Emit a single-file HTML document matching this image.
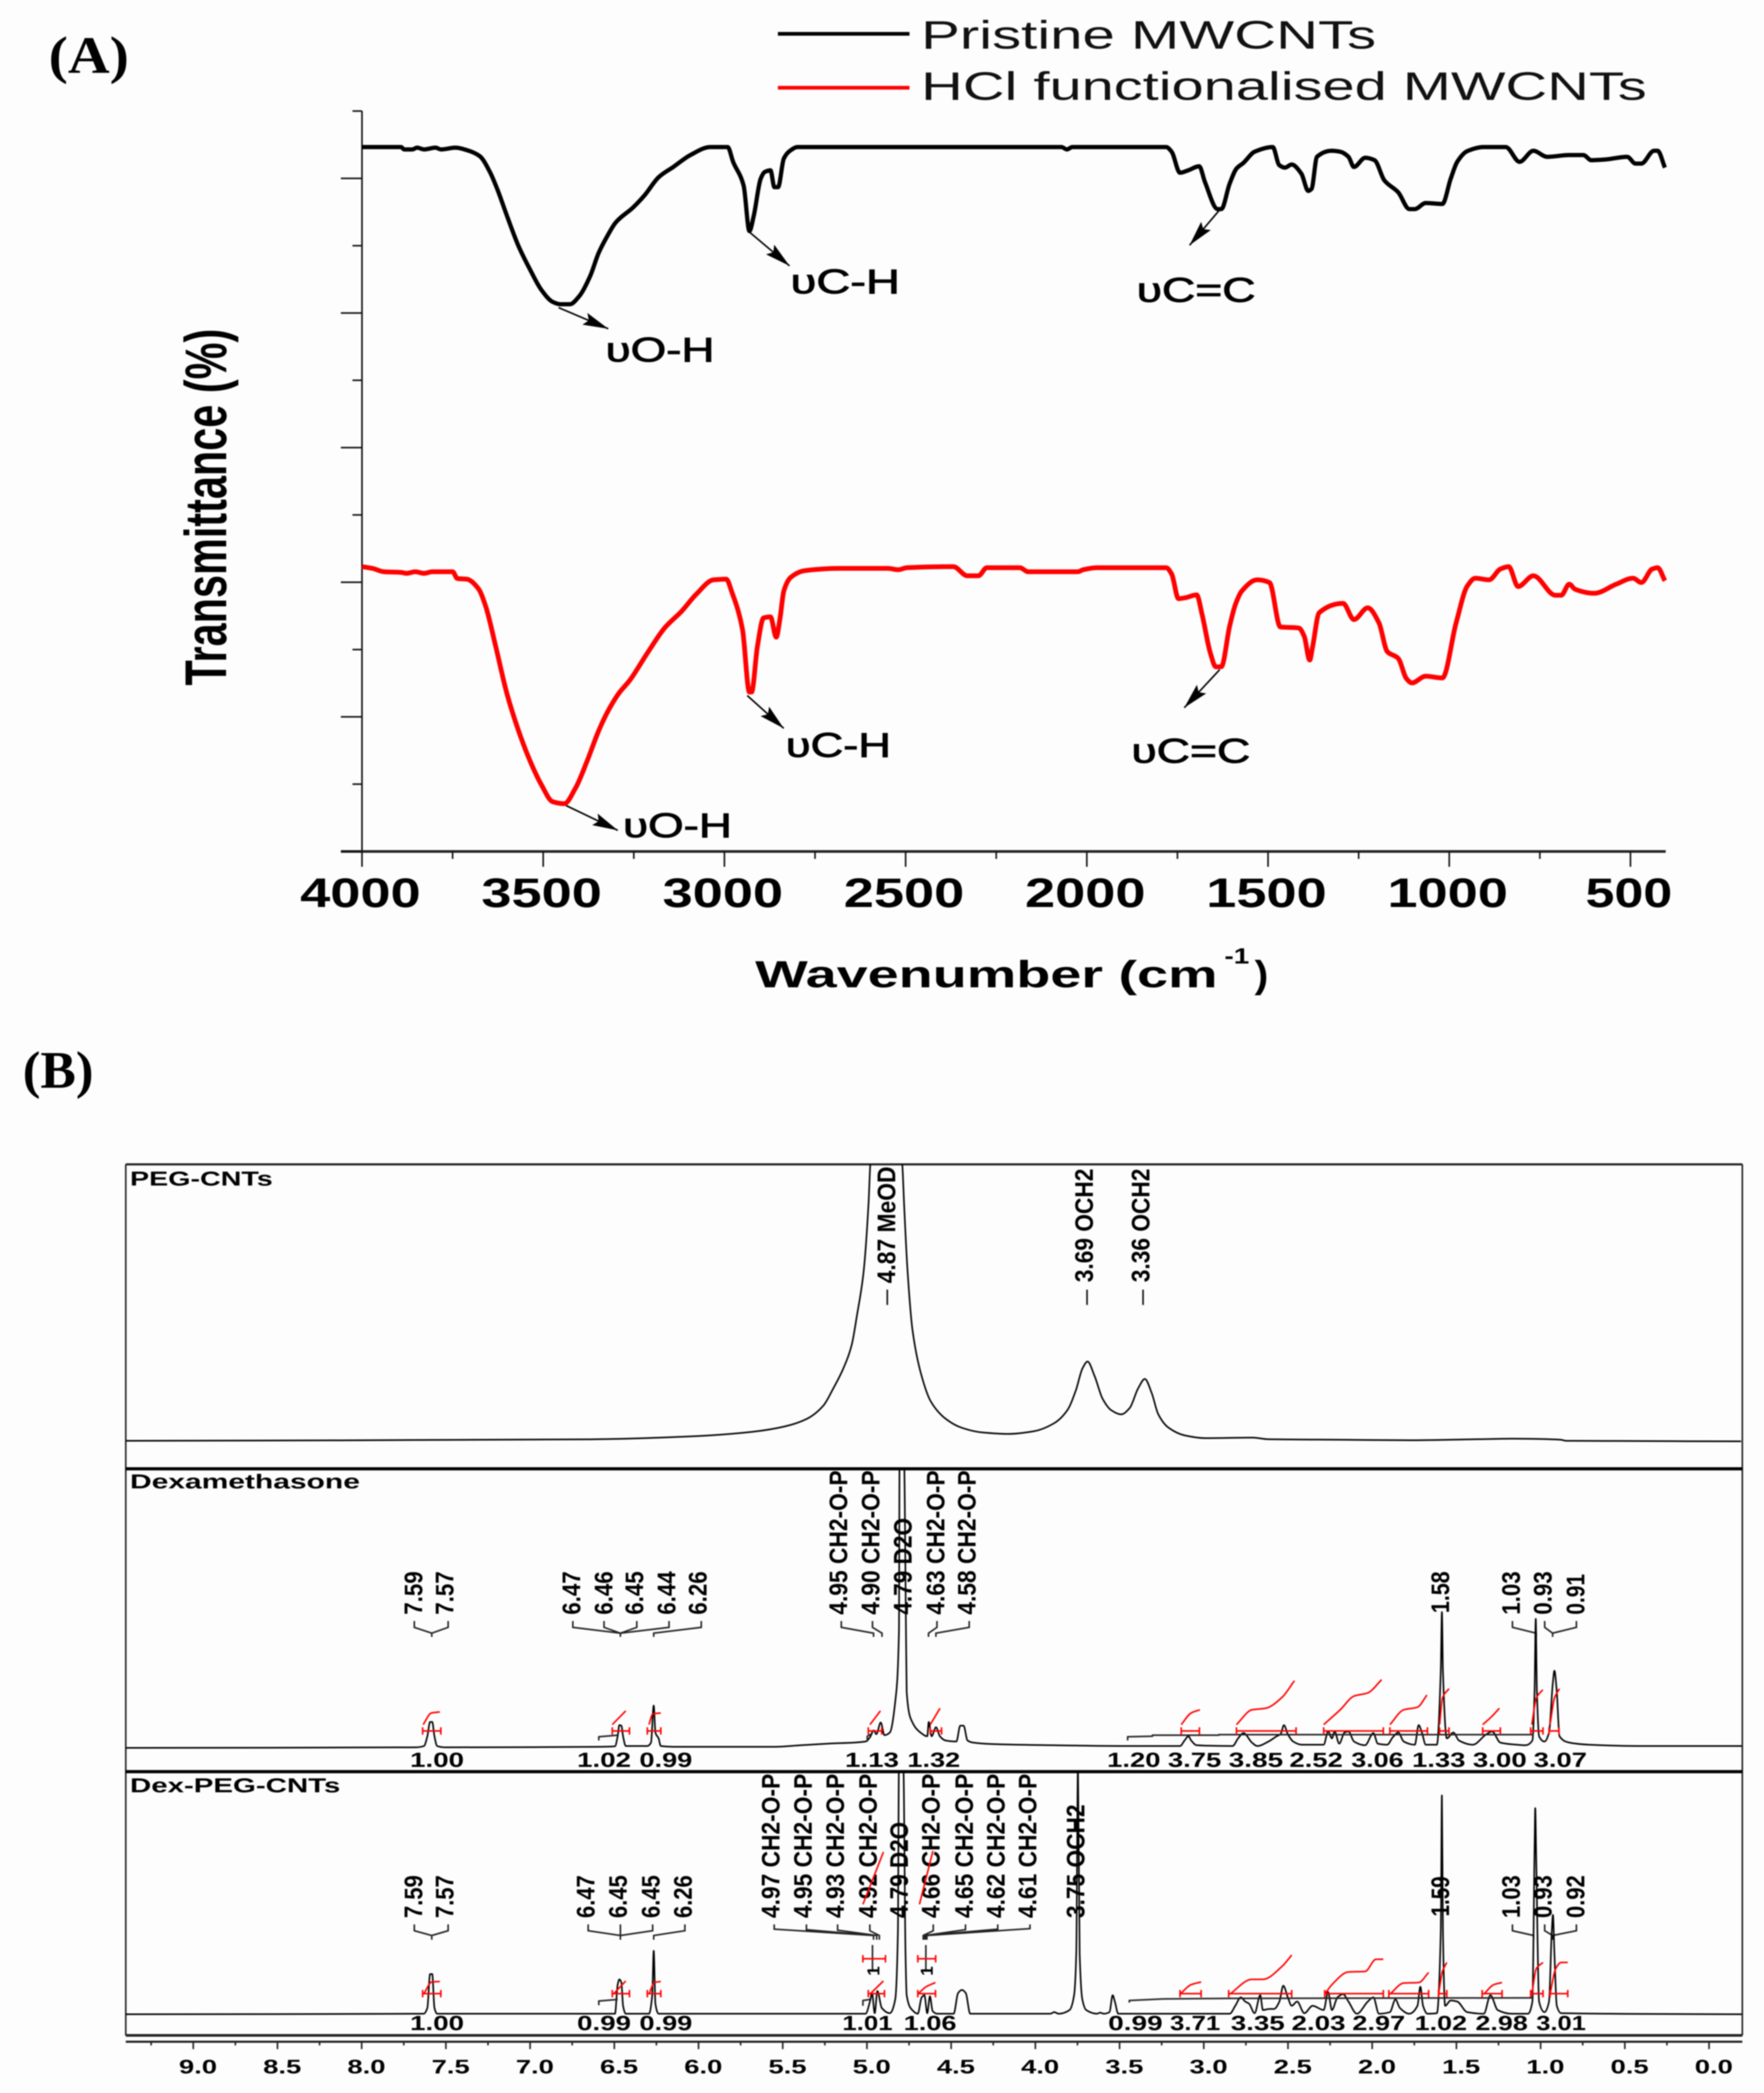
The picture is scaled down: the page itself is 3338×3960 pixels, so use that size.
<!DOCTYPE html>
<html lang="en">
<head>
<meta charset="utf-8">
<title>FTIR and NMR spectra</title>
<style>
html,body{margin:0;padding:0;background:#fdfdfd;}
svg{display:block;filter:blur(1.1px);}
text{font-family:"Liberation Sans",sans-serif;fill:#000;}
.serif{font-family:"Liberation Serif",serif;font-weight:bold;font-size:100px;}
.legend{font-size:75px;fill:#111;}
.tick{font-size:78px;font-weight:bold;text-anchor:middle;}
.title{font-weight:bold;}
.ann{font-size:65px;stroke:#000;stroke-width:1.5px;}
.panel{font-size:38px;font-weight:bold;}
.pk{font-size:48px;font-weight:bold;}
.int{font-size:39px;font-weight:bold;}
.ppm{font-size:37px;font-weight:bold;text-anchor:middle;}
</style>
</head>
<body>
<svg id="fig" xmlns="http://www.w3.org/2000/svg" width="3338" height="3960" viewBox="0 0 3338 3960">
<defs>
<marker id="ah" markerUnits="userSpaceOnUse" markerWidth="52" markerHeight="28" refX="48" refY="14" orient="auto">
<path d="M8 14L0 2L48 14L0 26Z" fill="#000"/>
</marker>
<clipPath id="clipPeg"><rect x="238" y="2203" width="3059" height="576"/></clipPath>
<clipPath id="clipDex"><rect x="238" y="2779" width="3059" height="573"/></clipPath>
<clipPath id="clipDexPeg"><rect x="238" y="3352" width="3059" height="499"/></clipPath>
</defs>
<rect width="3338" height="3960" fill="#fdfdfd"/>

<!-- Panel A static -->
<text class="serif" x="92" y="138" textLength="152" lengthAdjust="spacingAndGlyphs">(A)</text>
<text class="serif" x="43" y="2058" textLength="134" lengthAdjust="spacingAndGlyphs">(B)</text>

<g>
<line x1="1472" y1="64" x2="1721" y2="64" stroke="#000" stroke-width="7"/>
<line x1="1472" y1="166" x2="1721" y2="166" stroke="#f00" stroke-width="7"/>
<text class="legend" x="1743" y="92" textLength="861" lengthAdjust="spacingAndGlyphs">Pristine MWCNTs</text>
<text class="legend" x="1743" y="189" textLength="1373" lengthAdjust="spacingAndGlyphs">HCl functionalised MWCNTs</text>
</g>

<text class="title" font-size="111" transform="translate(428,1297) rotate(-90)" textLength="675" lengthAdjust="spacingAndGlyphs">Transmittance (%)</text>
<text class="title" font-size="71" x="1429" y="1868" textLength="875" lengthAdjust="spacingAndGlyphs">Wavenumber (cm</text>
<text class="title" font-size="42" x="2317" y="1823" textLength="47" lengthAdjust="spacingAndGlyphs">-1</text>
<text class="title" font-size="71" x="2374" y="1868" textLength="26" lengthAdjust="spacingAndGlyphs">)</text>

<g stroke="#000" stroke-width="3" fill="none">
<line x1="1057" y1="582" x2="1151" y2="622" marker-end="url(#ah)"/>
<line x1="1418" y1="439" x2="1494" y2="503" marker-end="url(#ah)"/>
<line x1="2308" y1="397" x2="2251" y2="464" marker-end="url(#ah)"/>
<line x1="1071" y1="1524" x2="1169" y2="1571" marker-end="url(#ah)"/>
<line x1="1414" y1="1316" x2="1483" y2="1378" marker-end="url(#ah)"/>
<line x1="2308" y1="1267" x2="2241" y2="1339" marker-end="url(#ah)"/>
</g>
<text class="ann" x="1146" y="684" textLength="206" lengthAdjust="spacingAndGlyphs">υO-H</text>
<text class="ann" x="1496" y="555" textLength="207" lengthAdjust="spacingAndGlyphs">υC-H</text>
<text class="ann" x="2151" y="571" textLength="225" lengthAdjust="spacingAndGlyphs">υC=C</text>
<text class="ann" x="1179" y="1584" textLength="206" lengthAdjust="spacingAndGlyphs">υO-H</text>
<text class="ann" x="1487" y="1432" textLength="199" lengthAdjust="spacingAndGlyphs">υC-H</text>
<text class="ann" x="2141" y="1443" textLength="225" lengthAdjust="spacingAndGlyphs">υC=C</text>

<!-- Panel B static -->
<g stroke="#222" fill="none">
<line x1="238" y1="2203" x2="3297" y2="2203" stroke-width="4"/>
<line x1="238" y1="2203" x2="238" y2="3851" stroke-width="3"/>
<line x1="3297" y1="2203" x2="3297" y2="3851" stroke-width="3"/>
<line x1="238" y1="2779" x2="3297" y2="2779" stroke="#000" stroke-width="6"/>
<line x1="238" y1="3352" x2="3297" y2="3352" stroke="#000" stroke-width="6"/>
<line x1="238" y1="3851" x2="3297" y2="3851" stroke-width="5"/>
<line x1="238" y1="3863" x2="3297" y2="3863" stroke-width="4"/>
</g>
<text class="panel" font-size="40" x="246" y="2243" textLength="270" lengthAdjust="spacingAndGlyphs">PEG-CNTs</text>
<text class="panel" x="246" y="2816" textLength="435" lengthAdjust="spacingAndGlyphs">Dexamethasone</text>
<text class="panel" x="246" y="3391" textLength="398" lengthAdjust="spacingAndGlyphs">Dex-PEG-CNTs</text>

<g>
<text class="pk" transform="translate(1694,2428) rotate(-90)" textLength="221" lengthAdjust="spacingAndGlyphs">4.87 MeOD</text>
<text class="pk" transform="translate(2068,2426) rotate(-90)" textLength="215" lengthAdjust="spacingAndGlyphs">3.69 OCH2</text>
<text class="pk" transform="translate(2175,2426) rotate(-90)" textLength="215" lengthAdjust="spacingAndGlyphs">3.36 OCH2</text>
<path d="M1679 2440V2469M2057 2440V2469M2163 2440V2469" stroke="#111" stroke-width="3" fill="none"/>
</g>

<g>
<text class="pk" transform="translate(799,3055) rotate(-90)" textLength="82" lengthAdjust="spacingAndGlyphs">7.59</text>
<text class="pk" transform="translate(858,3055) rotate(-90)" textLength="82" lengthAdjust="spacingAndGlyphs">7.57</text>
<text class="pk" transform="translate(1098,3055) rotate(-90)" textLength="82" lengthAdjust="spacingAndGlyphs">6.47</text>
<text class="pk" transform="translate(1159,3055) rotate(-90)" textLength="82" lengthAdjust="spacingAndGlyphs">6.46</text>
<text class="pk" transform="translate(1217,3055) rotate(-90)" textLength="82" lengthAdjust="spacingAndGlyphs">6.45</text>
<text class="pk" transform="translate(1278,3055) rotate(-90)" textLength="82" lengthAdjust="spacingAndGlyphs">6.44</text>
<text class="pk" transform="translate(1337,3055) rotate(-90)" textLength="82" lengthAdjust="spacingAndGlyphs">6.26</text>
<text class="pk" transform="translate(1603,3055) rotate(-90)" textLength="273" lengthAdjust="spacingAndGlyphs">4.95 CH2-O-P</text>
<text class="pk" transform="translate(1664,3055) rotate(-90)" textLength="273" lengthAdjust="spacingAndGlyphs">4.90 CH2-O-P</text>
<text class="pk" transform="translate(1725,3055) rotate(-90)" textLength="183" lengthAdjust="spacingAndGlyphs">4.79 D2O</text>
<text class="pk" transform="translate(1787,3055) rotate(-90)" textLength="273" lengthAdjust="spacingAndGlyphs">4.63 CH2-O-P</text>
<text class="pk" transform="translate(1846,3055) rotate(-90)" textLength="273" lengthAdjust="spacingAndGlyphs">4.58 CH2-O-P</text>
<text class="pk" transform="translate(2742,3052) rotate(-90)" textLength="79" lengthAdjust="spacingAndGlyphs">1.58</text>
<text class="pk" transform="translate(2876,3055) rotate(-90)" textLength="82" lengthAdjust="spacingAndGlyphs">1.03</text>
<text class="pk" transform="translate(2936,3055) rotate(-90)" textLength="82" lengthAdjust="spacingAndGlyphs">0.93</text>
<text class="pk" transform="translate(2998,3055) rotate(-90)" textLength="77" lengthAdjust="spacingAndGlyphs">0.91</text>
<path d="M784 3067V3079L817 3090V3097M848 3067V3079L817 3090M1084 3067V3079L1174 3090V3097M1143 3067V3079L1174 3090M1205 3067V3079L1174 3090M1266 3067V3079L1174 3090M1327 3067V3079L1237 3090V3097M1592 3067V3079L1653 3090V3097M1651 3067V3079L1669 3090V3097M1773 3067V3079L1757 3090V3097M1834 3067V3079L1771 3090V3097M2862 3067V3079L2907 3090V3097M2923 3067V3079L2938 3090V3097M2983 3067V3079L2938 3090" stroke="#222" stroke-width="3" fill="none"/>
</g>

<g>
<text class="pk" transform="translate(799,3629) rotate(-90)" textLength="81" lengthAdjust="spacingAndGlyphs">7.59</text>
<text class="pk" transform="translate(858,3629) rotate(-90)" textLength="81" lengthAdjust="spacingAndGlyphs">7.57</text>
<text class="pk" transform="translate(1125,3629) rotate(-90)" textLength="81" lengthAdjust="spacingAndGlyphs">6.47</text>
<text class="pk" transform="translate(1186,3629) rotate(-90)" textLength="81" lengthAdjust="spacingAndGlyphs">6.45</text>
<text class="pk" transform="translate(1248,3629) rotate(-90)" textLength="81" lengthAdjust="spacingAndGlyphs">6.45</text>
<text class="pk" transform="translate(1309,3629) rotate(-90)" textLength="81" lengthAdjust="spacingAndGlyphs">6.26</text>
<text class="pk" transform="translate(1475,3629) rotate(-90)" textLength="273" lengthAdjust="spacingAndGlyphs">4.97 CH2-O-P</text>
<text class="pk" transform="translate(1536,3629) rotate(-90)" textLength="273" lengthAdjust="spacingAndGlyphs">4.95 CH2-O-P</text>
<text class="pk" transform="translate(1597,3629) rotate(-90)" textLength="273" lengthAdjust="spacingAndGlyphs">4.93 CH2-O-P</text>
<text class="pk" transform="translate(1659,3629) rotate(-90)" textLength="273" lengthAdjust="spacingAndGlyphs">4.92 CH2-O-P</text>
<text class="pk" transform="translate(1718,3629) rotate(-90)" textLength="182" lengthAdjust="spacingAndGlyphs">4.79 D2O</text>
<text class="pk" transform="translate(1778,3629) rotate(-90)" textLength="273" lengthAdjust="spacingAndGlyphs">4.66 CH2-O-P</text>
<text class="pk" transform="translate(1841,3629) rotate(-90)" textLength="273" lengthAdjust="spacingAndGlyphs">4.65 CH2-O-P</text>
<text class="pk" transform="translate(1901,3629) rotate(-90)" textLength="273" lengthAdjust="spacingAndGlyphs">4.62 CH2-O-P</text>
<text class="pk" transform="translate(1961,3629) rotate(-90)" textLength="273" lengthAdjust="spacingAndGlyphs">4.61 CH2-O-P</text>
<text class="pk" transform="translate(2052,3629) rotate(-90)" textLength="215" lengthAdjust="spacingAndGlyphs">3.75 OCH2</text>
<text class="pk" transform="translate(2742,3626) rotate(-90)" textLength="76" lengthAdjust="spacingAndGlyphs">1.59</text>
<text class="pk" transform="translate(2876,3629) rotate(-90)" textLength="81" lengthAdjust="spacingAndGlyphs">1.03</text>
<text class="pk" transform="translate(2936,3629) rotate(-90)" textLength="81" lengthAdjust="spacingAndGlyphs">0.93</text>
<text class="pk" transform="translate(2998,3629) rotate(-90)" textLength="81" lengthAdjust="spacingAndGlyphs">0.92</text>
<path d="M784 3641V3653L817 3662V3670M848 3641V3653L817 3662M1113 3641V3653L1174 3662V3670M1174 3641V3662M1235 3641V3653L1174 3662M1296 3641V3653L1237 3662V3670M1465 3641V3650L1653 3662V3670M1526 3641V3651L1653 3662M1585 3641V3652L1659 3662V3670M1646 3641V3653L1664 3662V3670M1766 3641V3653L1747 3662V3670M1827 3641V3651L1750 3662V3670M1888 3641V3650L1752 3662V3670M1949 3641V3649L1754 3662V3670M2862 3641V3653L2902 3662V3670M2923 3641V3653L2938 3662V3670M2983 3641V3653L2938 3662" stroke="#222" stroke-width="3" fill="none"/>
<path d="M1651 3680V3729M1752 3680V3729" stroke="#222" stroke-width="3" fill="none"/>
<text font-size="32" font-weight="bold" transform="translate(1664,3738) rotate(-90)">1</text>
<text font-size="32" font-weight="bold" transform="translate(1765,3738) rotate(-90)">1</text>
</g>

<g>
<text class="int" x="776" y="3343" textLength="102" lengthAdjust="spacingAndGlyphs">1.00</text>
<text class="int" x="1092" y="3343" textLength="102" lengthAdjust="spacingAndGlyphs">1.02</text>
<text class="int" x="1210" y="3343" textLength="100" lengthAdjust="spacingAndGlyphs">0.99</text>
<text class="int" x="1599" y="3343" textLength="102" lengthAdjust="spacingAndGlyphs">1.13</text>
<text class="int" x="1717" y="3343" textLength="100" lengthAdjust="spacingAndGlyphs">1.32</text>
<text class="int" x="2095" y="3343" textLength="101" lengthAdjust="spacingAndGlyphs">1.20</text>
<text class="int" x="2210" y="3343" textLength="101" lengthAdjust="spacingAndGlyphs">3.75</text>
<text class="int" x="2325" y="3343" textLength="103" lengthAdjust="spacingAndGlyphs">3.85</text>
<text class="int" x="2440" y="3343" textLength="101" lengthAdjust="spacingAndGlyphs">2.52</text>
<text class="int" x="2557" y="3343" textLength="99" lengthAdjust="spacingAndGlyphs">3.06</text>
<text class="int" x="2672" y="3343" textLength="101" lengthAdjust="spacingAndGlyphs">1.33</text>
<text class="int" x="2787" y="3343" textLength="102" lengthAdjust="spacingAndGlyphs">3.00</text>
<text class="int" x="2902" y="3343" textLength="101" lengthAdjust="spacingAndGlyphs">3.07</text>
</g>

<g>
<text class="int" x="776" y="3841" textLength="102" lengthAdjust="spacingAndGlyphs">1.00</text>
<text class="int" x="1092" y="3841" textLength="102" lengthAdjust="spacingAndGlyphs">0.99</text>
<text class="int" x="1210" y="3841" textLength="100" lengthAdjust="spacingAndGlyphs">0.99</text>
<text class="int" x="1594" y="3841" textLength="95" lengthAdjust="spacingAndGlyphs">1.01</text>
<text class="int" x="1710" y="3841" textLength="100" lengthAdjust="spacingAndGlyphs">1.06</text>
<text class="int" x="2097" y="3841" textLength="103" lengthAdjust="spacingAndGlyphs">0.99</text>
<text class="int" x="2214" y="3841" textLength="95" lengthAdjust="spacingAndGlyphs">3.71</text>
<text class="int" x="2329" y="3841" textLength="102" lengthAdjust="spacingAndGlyphs">3.35</text>
<text class="int" x="2444" y="3841" textLength="102" lengthAdjust="spacingAndGlyphs">2.03</text>
<text class="int" x="2559" y="3841" textLength="100" lengthAdjust="spacingAndGlyphs">2.97</text>
<text class="int" x="2677" y="3841" textLength="99" lengthAdjust="spacingAndGlyphs">1.02</text>
<text class="int" x="2792" y="3841" textLength="99" lengthAdjust="spacingAndGlyphs">2.98</text>
<text class="int" x="2907" y="3841" textLength="94" lengthAdjust="spacingAndGlyphs">3.01</text>
</g>
</svg>

<script>
/* ---------- FTIR data (panel A) ---------- */
const ftirMajorTicks = [4000, 3500, 3000, 2500, 2000, 1500, 1000, 500];
const ftirMinorTicks = [3750, 3250, 2750, 2250, 1750, 1250, 750];
const ftirTickLabels = ['4000', '3500', '3000', '2500', '2000', '1500', '1000', '500'];
const transmittanceMajorTicks = [0, 10, 20, 30, 40, 50];
const transmittanceMinorTicks = [5, 15, 25, 35, 45, 55];

const pristineWavenumber = [4000,3892,3884,3861,3848,3829,3797,3782,3742,3711,3675,3647,3627,3600,3568,3536,3505,3474,3453,3426,3402,3371,3347,3323,3300,3252,3221,3181,3141,3094,3039,2991,2976,2947,2931,2919,2900,2889,2873,2862,2852,2836,2820,2798,2070,2055,2040,1781,1766,1743,1720,1690,1674,1639,1629,1606,1587,1568,1537,1487,1469,1453,1435,1408,1389,1380,1365,1324,1301,1278,1263,1232,1206,1179,1141,1110,1095,1065,1019,996,978,950,905,844,806,768,730,669,630,608,570,509,486,470,435,425,405];
const pristineTransmittance = [52.33,52.33,52.15,52.15,52.28,52.15,52.28,52.15,52.28,52.1,51.65,50.47,49.22,47.22,44.96,43.21,41.71,40.83,40.65,40.65,41.2,42.71,44.46,45.72,46.72,47.84,48.72,50.1,50.85,51.73,52.33,52.33,51.23,49.47,46.09,47.22,49.97,50.47,50.6,49.35,49.35,51.48,52.03,52.33,52.33,52.15,52.33,52.33,51.98,50.42,50.6,50.9,49.72,47.72,47.72,49.6,50.73,51.15,51.98,52.33,50.98,50.8,51.03,50.35,49.07,49.22,51.6,52.05,51.98,51.6,50.85,51.53,51.35,49.85,48.97,47.72,47.72,48.17,48.1,49.97,51.23,52.03,52.33,52.33,51.23,52.05,51.6,51.73,51.73,51.35,51.4,51.6,51.1,51.1,52.05,52.05,50.8];

const hclWavenumber = [4000,3971,3940,3892,3877,3853,3829,3806,3750,3737,3711,3679,3659,3631,3600,3568,3536,3505,3474,3442,3411,3379,3347,3323,3292,3261,3213,3165,3118,3078,3030,2995,2979,2950,2931,2925,2909,2892,2873,2857,2847,2836,2817,2778,2683,2549,2520,2497,2368,2330,2299,2276,2185,2162,2025,2010,1971,1781,1766,1747,1728,1697,1682,1659,1644,1629,1606,1590,1572,1530,1496,1466,1415,1400,1385,1377,1359,1293,1263,1225,1194,1171,1141,1118,1103,1065,1019,981,950,928,890,859,836,810,768,707,691,669,653,600,539,493,470,440,425,405];
const hclTransmittance = [21.16,21.03,20.78,20.73,20.66,20.78,20.66,20.78,20.78,20.28,20.23,19.53,18.23,15.22,11.72,8.96,6.71,4.95,3.7,3.55,4.7,6.71,8.96,10.34,11.72,12.72,14.72,16.6,17.85,19.1,20.18,20.23,19.23,16.47,11.84,11.84,15.22,17.35,17.43,15.92,17.23,19.36,20.36,20.86,21.03,21.03,20.93,21.08,21.16,20.48,20.48,21.08,21.08,20.78,20.78,20.93,21.08,21.08,20.61,18.78,18.85,19.06,17.6,14.72,13.72,13.72,16.73,18.35,19.36,20.18,19.98,16.68,16.6,15.97,14.22,15.22,17.73,18.43,17.23,18.1,16.98,14.85,14.35,12.84,12.52,13.02,12.89,16.98,19.73,20.3,20.18,20.98,21.16,19.68,20.48,19.03,19.03,19.86,19.48,19.18,19.86,20.3,19.98,20.98,21.08,20.11];

/* ---------- NMR data (panel B) ---------- */
const ppmMajorTicks = [9, 8.5, 8, 7.5, 7, 6.5, 6, 5.5, 5, 4.5, 4, 3.5, 3, 2.5, 2, 1.5, 1, 0.5, 0];
const ppmMinorTicks = [9.25, 8.75, 8.25, 7.75, 7.25, 6.75, 6.25, 5.75, 5.25, 4.75, 4.25, 3.75, 3.25, 2.75, 2.25, 1.75, 1.25, 0.75, 0.25];
const ppmTickLabels = ['9.0','8.5','8.0','7.5','7.0','6.5','6.0','5.5','5.0','4.5','4.0','3.5','3.0','2.5','2.0','1.5','1.0','0.5','0.0'];

const pegPpm = [9.4,8.24,6.64,6,5.68,5.49,5.36,5.26,5.2,5.14,5.09,5.06,5.02,4.99,4.98,4.88,4.79,4.78,4.76,4.73,4.68,4.62,4.53,4.44,4.32,4.16,4.01,3.89,3.81,3.76,3.72,3.69,3.65,3.6,3.55,3.49,3.44,3.39,3.35,3.31,3.27,3.21,3.11,2.99,2.71,2.62,2.19,1.76,1.37,1.17,0.88,0.85,-0.19];
const pegIntensity = [0,0.7,2.8,9,17,27,41,66,99,137,182,236,319,452,523,760,523,452,327,211,128,74,41,25,16,13,18,33,58,95,137,150,124,79,58,50,62,99,117,91,50,25,10,5,6,3,2,1,3,4,2,0,-1];

const dexPpm = [9.4,7.68,7.63,7.61,7.594,7.581,7.568,7.552,7.504,6.592,6.496,6.48,6.47,6.458,6.448,6.432,6.304,6.282,6.266,6.256,6.237,6.224,6.128,5.552,5.392,5.232,5.008,4.982,4.96,4.944,4.918,4.896,4.864,4.832,4.81,4.806,4.781,4.768,4.764,4.731,4.682,4.642,4.633,4.616,4.59,4.567,4.534,4.469,4.446,4.426,4.403,4.37,4.239,3.895,3.501,3.141,3.114,3.091,3.075,3.042,2.829,2.796,2.764,2.714,2.682,2.616,2.567,2.544,2.524,2.501,2.469,2.419,2.288,2.262,2.239,2.223,2.196,2.164,2.141,2.108,2.042,1.993,1.967,1.911,1.878,1.845,1.813,1.747,1.724,1.705,1.682,1.616,1.593,1.586,1.58,1.557,1.518,1.485,1.403,1.321,1.288,1.239,1.141,1.091,1.049,1.036,1.029,1.022,1.009,0.977,0.95,0.927,0.918,0.904,0.888,0.829,0.714,0.419,-0.194];
const dexIntensity = [-1,0,2.5,21,48,48,21,2.5,0,1,2,21,42,41,21,2.5,2.5,9,79,28,17,2.5,1,1,4,7,11,19,32,25,47,23,28,86,220,560,560,220,105,48,28,21,48,21,38,21,13,11,41,41,13,9,6,4,2.5,2.5,13,21,13,4,2.5,17,27,9,2.5,11,21,25,42,25,11,5,5,30,17,30,7,28,30,11,4,27,7,5,19,28,11,5,42,28,5,5,143,256,143,17,28,13,5,25,30,9,5,4,13,105,243,105,21,11,28,124,145,105,21,9,5,2.5,2.5];

const dexPegPpm = [9.4,7.632,7.61,7.594,7.581,7.568,7.552,6.496,6.48,6.47,6.458,6.448,6.432,6.294,6.275,6.266,6.256,6.237,5.008,4.982,4.97,4.954,4.938,4.912,4.864,4.832,4.816,4.81,4.784,4.771,4.764,4.731,4.698,4.675,4.659,4.642,4.626,4.61,4.583,4.485,4.459,4.436,4.413,4.387,3.911,3.888,3.862,3.797,3.77,3.757,3.747,3.737,3.721,3.698,3.633,3.616,3.593,3.56,3.541,3.528,3.508,2.846,2.813,2.78,2.754,2.731,2.698,2.665,2.649,2.61,2.583,2.551,2.528,2.501,2.478,2.446,2.403,2.354,2.288,2.262,2.239,2.206,2.173,2.141,2.091,2.026,1.993,1.96,1.895,1.862,1.836,1.78,1.731,1.714,1.698,1.672,1.616,1.593,1.586,1.58,1.567,1.534,1.495,1.436,1.337,1.298,1.255,1.173,1.075,1.049,1.036,1.032,1.026,1.009,0.977,0.95,0.934,0.927,0.918,0.904,0.878,-0.194];
const dexPegIntensity = [-1,0,11,75,75,11,0,0,55,65,59,15,0,0,35,119,19,0,0,23,39,1,43,11,1,27,154,470,470,114,35,7,0,31,35,1,33,5,0,0,39,45,39,0,0,3,0,7,35,114,470,114,27,7,0,2,0,3,35,23,0,0,15,31,23,19,1,35,7,9,9,23,53,31,15,23,1,15,7,41,7,31,37,23,0,23,31,0,3,27,11,0,15,51,15,0,1,154,413,154,15,25,23,3,0,35,7,0,0,23,312,389,292,23,3,23,154,187,114,15,1,-1];

/* integral ranges and running-integral curves */
const dexIntegralStart = [7.638,6.512,6.304,4.992,4.624,3.134,2.806,2.288,1.895,1.6,1.344,1.059,0.95];
const dexIntegralEnd = [7.53,6.41,6.224,4.912,4.557,3.026,2.452,1.934,1.672,1.544,1.239,0.986,0.891];
const dexIntegralLevel = 31;
const dexCurvePpm = [[7.635,7.586,7.536],[6.512,6.432],[6.294,6.272,6.224],[4.982,4.92],[4.624,4.566],[3.134,3.075,3.023],[2.806,2.714,2.632,2.534,2.462],[2.288,2.19,2.108,2.026,1.944],[1.895,1.813,1.731,1.675],[1.6,1.583,1.544],[1.344,1.288,1.245],[1.052,1.026,0.987],[0.944,0.918,0.888]];
const dexCurveValues = [[43,65,67],[43,69],[43,63,65],[43,69],[43,74],[43,65,71],[43,71,74,95,126],[43,71,97,103,128],[43,71,76,99],[43,93,111],[43,59,74],[43,93,109],[43,93,111]];

const dexPegIntegralStart = [7.638,6.512,6.304,4.992,4.698,3.141,2.852,2.282,1.901,1.606,1.347,1.059,0.944];
const dexPegIntegralEnd = [7.53,6.41,6.224,4.896,4.593,3.016,2.478,1.934,1.665,1.557,1.229,0.986,0.839];
const dexPegIntegralLevel = 38;
const dexPegCurvePpm = [[7.632,7.584,7.536],[6.506,6.432],[6.294,6.262,6.224],[4.982,4.902],[4.698,4.649,4.593],[3.141,3.075,3.016],[2.846,2.714,2.649,2.534,2.478],[2.282,2.239,2.141,2.042,1.977,1.934],[1.895,1.813,1.724,1.665],[1.606,1.583,1.557],[1.337,1.278,1.229],[1.052,1.026,0.986],[0.944,0.911,0.878,0.839],[5.024,4.902],[4.688,4.608]];
const dexPegCurveValues = [[37,60,61],[37,62],[37,59,61],[37,62],[37,51,59],[37,55,60],[37,65,65,90,111],[37,55,79,80,103,103],[37,58,59,78],[37,80,97],[37,55,59],[37,85,97],[37,85,97,97],[207,306],[207,308]];
const floatingIntegralStart = [5.024,4.698];
const floatingIntegralEnd = [4.89,4.592];
const floatingIntegralLevel = 104;

/* black stepped integral baselines */
const dexStepPpm = [[6.592,6.592,6.48],[4.998,4.998,4.976],[3.452,3.452,3.305,3.305,2.911,2.911,1.042]];
const dexStepValues = [[13,20,23],[11,21,25],[13,20,21,23,23,24,24]];
const dexPegStepPpm = [[6.592,6.592,6.48],[5.024,5.024,4.982],[3.442,3.442,3.239,2.846,1.042]];
const dexPegStepValues = [[16,24,27],[15,25,27],[21,25,28,29,30]];

/* ---------- axis functions ---------- */
const xWavenumber = w => 685 + (4000 - w) * 0.6858;
const yTransmittance = t => 1611 - t * 25.47;
const xPpm = p => 3234 - p * 318.7;
const PEG_BASE = 2726;
const DEX_BASE = 3306;
const DEXPEG_BASE = 3810;

const fig = document.getElementById('fig');
const NS = 'http://www.w3.org/2000/svg';

function make(tag, parent) {
  const el = document.createElementNS(NS, tag);
  parent.appendChild(el);
  return el;
}
function polyline(xs, ys, parent, color, width) {
  const el = make('polyline', parent);
  el.setAttribute('points', xs.map((x, i) => x.toFixed(1) + ',' + ys[i].toFixed(1)).join(' '));
  el.setAttribute('fill', 'none');
  el.setAttribute('stroke', color);
  el.setAttribute('stroke-width', width);
  el.setAttribute('stroke-linejoin', 'round');
  return el;
}
/* monotone cubic through the data points: no overshoot, rounded humps */
function smoothLine(xs, ys, parent, color, width) {
  const n = xs.length;
  const h = [], d = [], m = [];
  for (let i = 0; i < n - 1; i++) {
    h.push(xs[i + 1] - xs[i]);
    d.push((ys[i + 1] - ys[i]) / (xs[i + 1] - xs[i]));
  }
  m[0] = d[0];
  m[n - 1] = d[n - 2];
  for (let i = 1; i < n - 1; i++) {
    if (d[i - 1] * d[i] <= 0) {
      m[i] = 0;
    } else {
      const w1 = 2 * h[i] + h[i - 1];
      const w2 = h[i] + 2 * h[i - 1];
      m[i] = (w1 + w2) / (w1 / d[i - 1] + w2 / d[i]);
    }
  }
  let path = 'M' + xs[0].toFixed(1) + ' ' + ys[0].toFixed(1);
  for (let i = 0; i < n - 1; i++) {
    const t = h[i] / 3;
    path += 'C' + (xs[i] + t).toFixed(1) + ' ' + (ys[i] + m[i] * t).toFixed(1) + ' ' +
      (xs[i + 1] - t).toFixed(1) + ' ' + (ys[i + 1] - m[i + 1] * t).toFixed(1) + ' ' +
      xs[i + 1].toFixed(1) + ' ' + ys[i + 1].toFixed(1);
  }
  const el = make('path', parent);
  el.setAttribute('d', path);
  el.setAttribute('fill', 'none');
  el.setAttribute('stroke', color);
  el.setAttribute('stroke-width', width);
  el.setAttribute('stroke-linejoin', 'round');
  return el;
}
function rule(x1, y1, x2, y2, parent, color, width) {
  const el = make('line', parent);
  el.setAttribute('x1', x1);
  el.setAttribute('y1', y1);
  el.setAttribute('x2', x2);
  el.setAttribute('y2', y2);
  el.setAttribute('stroke', color);
  el.setAttribute('stroke-width', width);
  return el;
}

/* ---------- panel A axes ---------- */
const yAxis = rule(685, 210, 685, 1611, fig, '#111', 3);


const xAxis = rule(645, 1611, 3152, 1611, fig, '#222', 5);



transmittanceMajorTicks.forEach(t => {
  const el = rule(645, yTransmittance(t), 685, yTransmittance(t), fig, '#111', 3);
  
  
});
transmittanceMinorTicks.forEach(t => {
  const el = rule(667, yTransmittance(t), 685, yTransmittance(t), fig, '#111', 3);
  
  
});
ftirMajorTicks.forEach((w, i) => {
  const el = rule(xWavenumber(w), 1611, xWavenumber(w), 1640, fig, '#111', 3);
  
  
  const label = make('text', fig);
  label.setAttribute('class', 'tick');
  label.setAttribute('x', xWavenumber(w) - 3);
  label.setAttribute('y', 1716);
  label.setAttribute('textLength', ftirTickLabels[i].length === 4 ? 228 : 164);
  label.setAttribute('lengthAdjust', 'spacingAndGlyphs');
  
  
  label.textContent = ftirTickLabels[i];
});
ftirMinorTicks.forEach(w => {
  const el = rule(xWavenumber(w), 1611, xWavenumber(w), 1625, fig, '#111', 3);
  
  
});

/* ---------- panel A series ---------- */
const pristineLine = smoothLine(pristineWavenumber.map(xWavenumber), pristineTransmittance.map(yTransmittance), fig, '#000', 8);


const hclLine = smoothLine(hclWavenumber.map(xWavenumber), hclTransmittance.map(yTransmittance), fig, '#f00', 9);



/* ---------- panel B axis ---------- */
ppmMajorTicks.forEach((p, i) => {
  const el = rule(xPpm(p), 3863, xPpm(p), 3877, fig, '#222', 3);
  
  
  const label = make('text', fig);
  label.setAttribute('class', 'ppm');
  label.setAttribute('x', xPpm(p) + 9);
  label.setAttribute('y', 3923);
  label.setAttribute('textLength', 72);
  label.setAttribute('lengthAdjust', 'spacingAndGlyphs');
  
  
  label.textContent = ppmTickLabels[i];
});
ppmMinorTicks.forEach(p => {
  const el = rule(xPpm(p), 3863, xPpm(p), 3870, fig, '#222', 3);
  
  
});

/* ---------- panel B spectra ---------- */
function spectrum(ppm, values, base, clip, width) {
  const el = smoothLine(ppm.map(xPpm), values.map(v => base - v), fig, '#000', width);
  el.setAttribute('clip-path', 'url(#' + clip + ')');
  return el;
}
const pegLine = spectrum(pegPpm, pegIntensity, PEG_BASE, 'clipPeg', 3);


const dexLine = spectrum(dexPpm, dexIntensity, DEX_BASE, 'clipDex', 3);


const dexPegLine = spectrum(dexPegPpm, dexPegIntensity, DEXPEG_BASE, 'clipDexPeg', 3);



/* stepped integral baselines */
dexStepPpm.forEach((ppm, i) => {
  const el = polyline(ppm.map(xPpm), dexStepValues[i].map(v => DEX_BASE - v), fig, '#222', 3);
  
  
});
dexPegStepPpm.forEach((ppm, i) => {
  const el = polyline(ppm.map(xPpm), dexPegStepValues[i].map(v => DEXPEG_BASE - v), fig, '#222', 3);
  
  
});

/* red integral brackets */
function bracket(start, end, y) {
  const el = make('path', fig);
  const a = xPpm(start), b = xPpm(end);
  el.setAttribute('d', 'M' + a + ' ' + (y - 7) + 'V' + (y + 7) + 'M' + a + ' ' + y + 'H' + b + 'M' + b + ' ' + (y - 7) + 'V' + (y + 7));
  el.setAttribute('fill', 'none');
  el.setAttribute('stroke', '#f00');
  el.setAttribute('stroke-width', 3);
  return el;
}
dexIntegralStart.forEach((s, i) => {
  const el = bracket(s, dexIntegralEnd[i], DEX_BASE - dexIntegralLevel);
  
  
});
dexPegIntegralStart.forEach((s, i) => {
  const el = bracket(s, dexPegIntegralEnd[i], DEXPEG_BASE - dexPegIntegralLevel);
  
  
});
floatingIntegralStart.forEach((s, i) => {
  const el = bracket(s, floatingIntegralEnd[i], DEXPEG_BASE - floatingIntegralLevel);
  
  
});

/* red running integrals */
dexCurvePpm.forEach((ppm, i) => {
  const el = smoothLine(ppm.map(xPpm), dexCurveValues[i].map(v => DEX_BASE - v), fig, '#f00', 3);
  
  
});
dexPegCurvePpm.forEach((ppm, i) => {
  const el = smoothLine(ppm.map(xPpm), dexPegCurveValues[i].map(v => DEXPEG_BASE - v), fig, '#f00', 3);
  
  
});
</script>
</body>
</html>
